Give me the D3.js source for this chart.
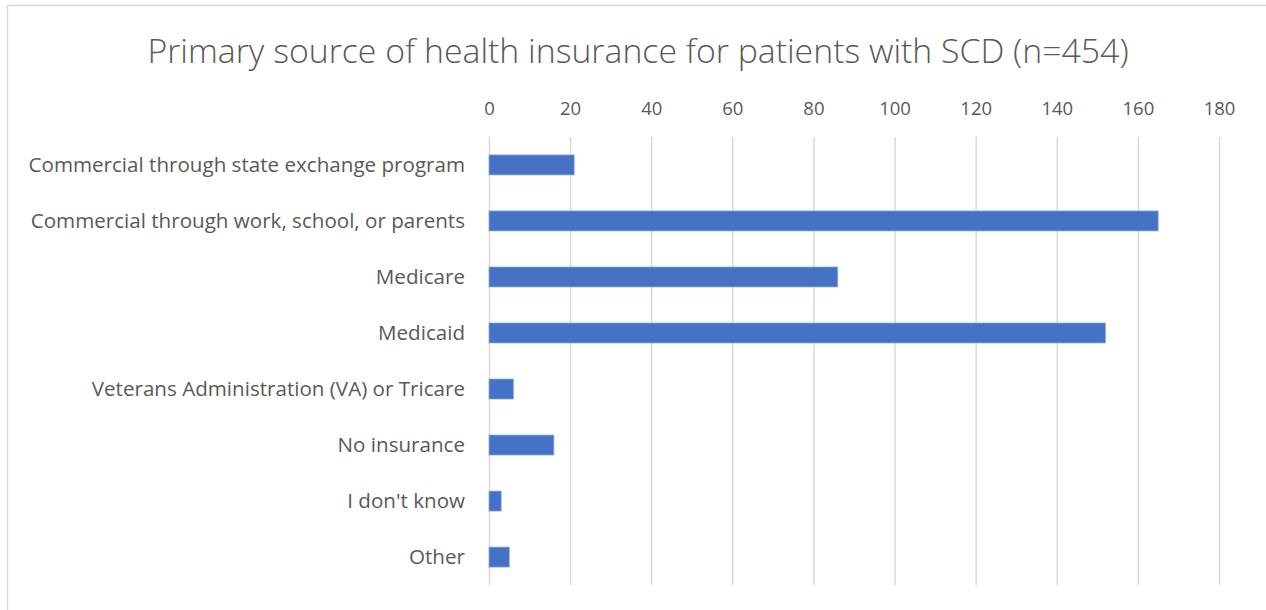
<!DOCTYPE html>
<html><head><meta charset="utf-8">
<script src="https://cdn.jsdelivr.net/npm/d3@7"></script>
<style>body{margin:0;background:#fff;} svg{display:block;}</style>
</head><body>
<svg id="c" width="1266" height="610"></svg>
<script>
const categories = ["Commercial through state exchange program","Commercial through work, school, or parents","Medicare","Medicaid","Veterans Administration (VA) or Tricare","No insurance","I don't know","Other"];
const values = [21,165,86,152,6,16,3,5];
const tickValues = [0,20,40,60,80,100,120,140,160,180];
const title = "Primary source of health insurance for patients with SCD (n=454)";

const svg = d3.select("#c");
svg.append("rect").attr("x",7.5).attr("y",5.5).attr("width",1270).attr("height",620)
  .attr("fill","#fff").attr("stroke","#D9D9D9").attr("stroke-width",1.5);

const x = d3.scaleLinear().domain([0,180]).range([489,1219]);
const y = d3.scaleBand().domain(categories).range([137,585]).paddingInner(0.643).paddingOuter(0.32);

svg.append("text").attr("x",638).attr("y",63).attr("text-anchor","middle")
  .attr("font-family","'Open Sans', sans-serif").attr("font-size",33.8).attr("font-weight",300)
  .attr("fill","#595959").text(title);

const gx = svg.append("g").attr("transform","translate(0,137)")
  .call(d3.axisTop(x).tickValues(tickValues).tickSize(-448).tickPadding(22));
gx.select(".domain").remove();
gx.selectAll(".tick line").attr("stroke","#D9D9D9").attr("stroke-width",1.5);
gx.selectAll(".tick text").attr("fill","#595959").attr("font-size",18.5)
  .attr("font-family","'Open Sans', sans-serif");

const gy = svg.append("g").attr("transform","translate(489,0)")
  .call(d3.axisLeft(y).tickSize(0).tickPadding(24));
gy.select(".domain").remove();
gy.selectAll(".tick text").attr("fill","#595959").attr("font-size",20.6)
  .attr("font-family","'Open Sans', sans-serif");

svg.append("g").selectAll("rect").data(values).join("rect")
  .attr("x",x(0)).attr("y",(d,i)=>y(categories[i]))
  .attr("width",d=>x(d)-x(0)).attr("height",y.bandwidth())
  .attr("fill","#4472C4").attr("stroke","#8FAADC").attr("stroke-width",0.75);
</script>
</body></html>
